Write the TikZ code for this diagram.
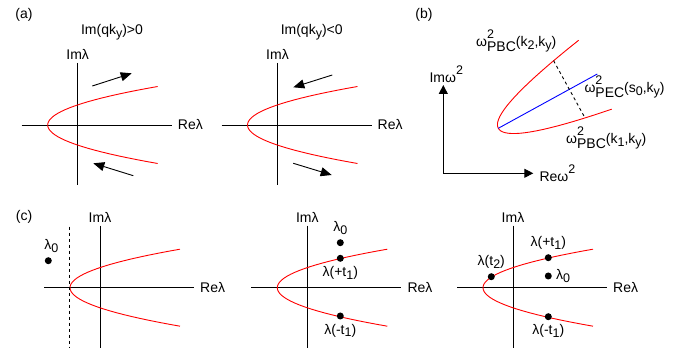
\documentclass[tikz,border=0pt]{standalone}
\usepackage{fontspec}
\setmainfont{Liberation Sans}
\usetikzlibrary{arrows.meta}
\usetikzlibrary{positioning}

\newcommand{\lowr}[1]{\raisebox{-0.4ex}{\fontsize{12.5}{12.5}\selectfont #1}}
\newcommand{\hi}[1]{\raisebox{1.15ex}{\fontsize{12.5}{12.5}\selectfont #1}}
\newcommand{\wsq}[1]{ω\rlap{\hi{2}}\raisebox{-0.6ex}{#1}}

\begin{document}
\begin{tikzpicture}[x=1pt, y=-1pt,
    every node/.style={font=\fontsize{14}{16}\selectfont, inner sep=1pt},
    label distance=3pt,
    axis/.style={line width=0.9pt},
    curve/.style={red, line width=0.9pt},
    dot/.style={circle, fill=black, inner sep=0pt, minimum size=7pt},
    bigarrow/.style={line width=0.9pt, -{Triangle[length=11pt, width=9pt]}}]

  \useasboundingbox (0,0) rectangle (681,352);

  \def\vx{-30} % vertex of the parabola, from the origin
  \def\pa{0.0742} % opening of the parabola

  % the five lambda planes
  \foreach \n/\ox/\oy in {a1/77.7/125, a2/277.5/125, c1/100/287.7, c2/307.3/287.7, c3/513/287.7} {
    \begin{scope}[shift={(\ox,\oy)}]
      \coordinate (\n-l) at (-56,0);
      \coordinate (\n-r) at (94,0);
      \coordinate (\n-t) at (0,-62);
      \coordinate (\n-b) at (0,60);
      \draw[axis] (\n-l) -- (\n-r);
      \draw[axis] (\n-t) -- (\n-b);
      \node[right=5pt of \n-r] (\n-re) {Reλ};
      \node[above=2pt of \n-t] (\n-im) {Imλ};
      \draw[curve] plot[domain=-38.5:38.5, samples=41, variable=\t] ({\vx+\pa*\t*\t}, {\t});
    \end{scope}
  }

  % (a)
  \node (a-lab) at (24,15) {(a)};
  \node (a1-tt) at (112,32) {Im(qk\lowr{y})>0};
  \node (a2-tt) at (311.7,32) {Im(qk\lowr{y})<0};

  \coordinate (a1-u0) at (92.3,86);
  \coordinate (a1-u1) at (131.7,73.3);
  \coordinate (a1-d0) at (133.3,175.7);
  \coordinate (a1-d1) at (93.3,163.3);
  \coordinate (a2-u0) at (332.3,75);
  \coordinate (a2-u1) at (293.3,87.3);
  \coordinate (a2-d0) at (293.3,163.3);
  \coordinate (a2-d1) at (331.7,175);
  \draw[bigarrow] (a1-u0) -- (a1-u1);
  \draw[bigarrow] (a1-d0) -- (a1-d1);
  \draw[bigarrow] (a2-u0) -- (a2-u1);
  \draw[bigarrow] (a2-d0) -- (a2-d1);

  % (b)
  \node (b-lab) at (424,15) {(b)};
  \coordinate (b-o) at (443.3,173.3);
  \coordinate (b-y) at (443.3,85);
  \coordinate (b-x) at (533.3,173.3);
  \draw[axis, -{Triangle[length=9pt, width=9pt]}] (b-o) -- (b-y);
  \draw[axis, -{Triangle[length=9pt, width=9pt]}] (b-o) -- (b-x);
  \node[above=1pt of b-y, xshift=3pt] (b-im) {Imω\hi{2}};
  \node[right=5pt of b-x] (b-re) {Reω\hi{2}};

  \draw[curve] plot[domain=-38.5:37.8, samples=41, variable=\t]
    ({498.3+0.0667*\t*\t+0.481*\t}, {128.3-0.0366*\t*\t+0.877*\t});
  \coordinate (b-v) at (498.3,128.3);
  \coordinate (b-e) at (597.3,74);
  \draw[blue, line width=0.9pt] (b-v) -- (b-e);
  \coordinate (b-k2) at (553.6,60.7);
  \coordinate (b-k1) at (585,117.9);
  \draw[axis, dashed] (b-k2) -- (b-k1);

  \node[anchor=base west] (b-pbc2) at (475,47) {\wsq{PBC}(k\lowr{2},k\lowr{y})};
  \node[anchor=base west] (b-pec) at (583.3,93) {\wsq{PEC}(s\lowr{0},k\lowr{y})};
  \node[anchor=base west] (b-pbc1) at (565,144) {\wsq{PBC}(k\lowr{1},k\lowr{y})};

  % (c)
  \node (c-lab) at (24,216.7) {(c)};
  \coordinate (c1-dt) at (69.3,226.7);
  \coordinate (c1-db) at (69.3,348);
  \draw[axis, dashed] (c1-dt) -- (c1-db);
  \node[dot, label={[xshift=3pt]above:λ\lowr{0}}] (c1-p0) at (48.3,260.7) {};

  \node[dot, label={above:λ\lowr{0}}] (c2-p0) at (340.3,242.7) {};
  \node[dot, label={below:λ(+t\lowr{1})}] (c2-pp) at (340.3,258.3) {};
  \node[dot, label={below:λ(-t\lowr{1})}] (c2-pm) at (340.3,316) {};

  \node[dot, label={above:λ(+t\lowr{1})}] (c3-pp) at (548.3,257.7) {};
  \node[dot, label={right:λ\lowr{0}}] (c3-p0) at (548.3,276) {};
  \node[dot, label={below:λ(-t\lowr{1})}] (c3-pm) at (548.3,316.7) {};
  \node[dot, label={above:λ(t\lowr{2})}] (c3-p2) at (491.3,276.7) {};

\end{tikzpicture}
\end{document}
